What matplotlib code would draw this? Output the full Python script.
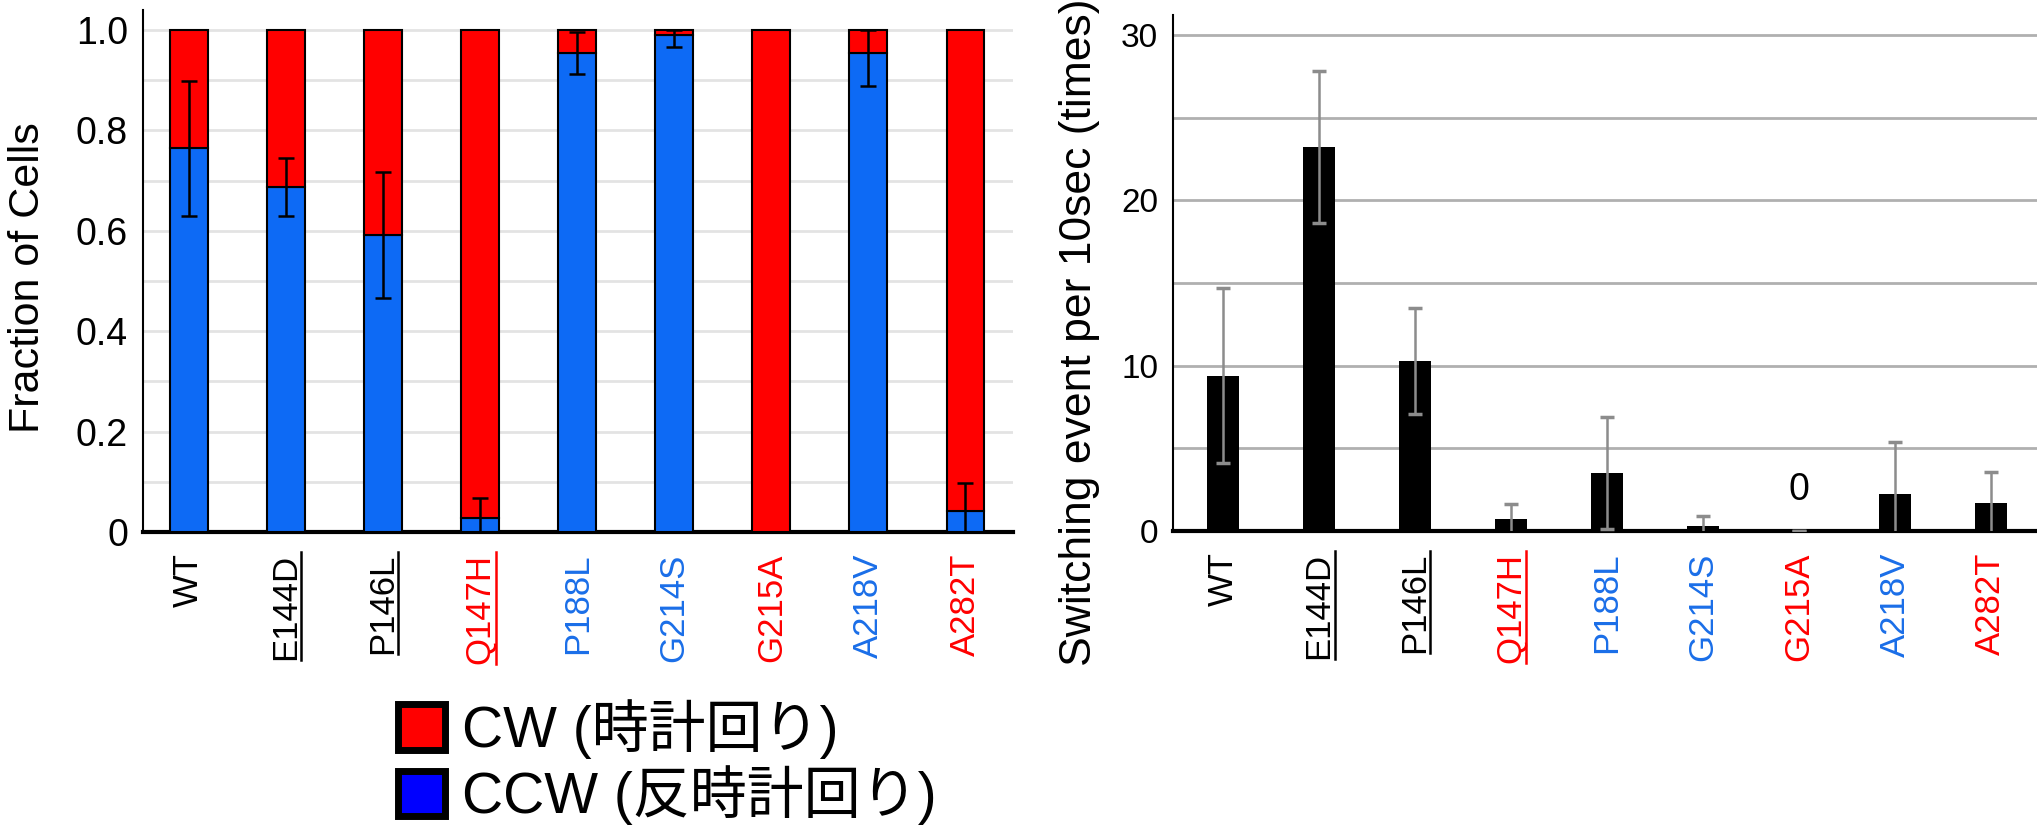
import matplotlib
matplotlib.use("Agg")
import matplotlib.pyplot as plt
from matplotlib import font_manager
from matplotlib.patches import Patch
from matplotlib.lines import Line2D
import numpy as np

plt.rcParams['font.family'] = ['Liberation Sans', 'Noto Sans CJK JP', 'DejaVu Sans']
_names = {f.name for f in font_manager.fontManager.ttflist}
HAS_NARROW = 'Liberation Sans Narrow' in _names

# ---- data ----
strains = ["WT", "E144D", "P146L", "Q147H", "P188L", "G214S", "G215A", "A218V", "A282T"]
label_colors = ["black", "black", "black", "#ff0000", "#1a6ee8", "#1a6ee8", "#ff0000", "#1a6ee8", "#ff0000"]
underlined = [False, True, True, True, False, False, False, False, False]

ccw_frac = [0.765, 0.688, 0.592, 0.027, 0.954, 0.991, 0.0, 0.954, 0.042]
ccw_err_lo = [0.135, 0.059, 0.126, 0.027, 0.042, 0.025, 0.0, 0.065, 0.042]
ccw_err_hi = [0.133, 0.058, 0.126, 0.040, 0.042, 0.009, 0.0, 0.046, 0.056]

switch_mean = [9.4, 23.2, 10.3, 0.75, 3.5, 0.32, 0.0, 2.22, 1.70]
switch_err = [5.3, 4.6, 3.2, 0.91, 3.4, 0.56, 0.0, 3.16, 1.87]

RED = "#ff0000"
BLUE_BAR = "#0d6af5"
BLUE_LEG = "#0000ff"

fig = plt.figure(figsize=(20.37, 8.32), dpi=100)

# ---- left chart ----
ax1 = fig.add_axes([0.0702, 0.3606, 0.4271, 0.6274])
x = np.arange(len(strains))
cw_frac = [1 - v for v in ccw_frac]
ax1.bar(x, ccw_frac, width=0.39, color=BLUE_BAR, edgecolor="black", linewidth=1.5, zorder=3)
ax1.bar(x, cw_frac, width=0.39, bottom=ccw_frac, color=RED, edgecolor="black", linewidth=1.5, zorder=3)
for i in range(len(strains)):
    if ccw_err_lo[i] > 0 or ccw_err_hi[i] > 0:
        ax1.errorbar(x[i], ccw_frac[i], yerr=[[ccw_err_lo[i]], [ccw_err_hi[i]]], fmt="none",
                     ecolor="black", elinewidth=1.8, capsize=6, capthick=1.8, zorder=4)
ax1.set_xlim(-0.472, 8.49)
ax1.set_ylim(0, 1.04)
ax1.set_yticks([0, 0.2, 0.4, 0.6, 0.8, 1.0])
ax1.set_yticklabels(["0", "0.2", "0.4", "0.6", "0.8", "1.0"])
ax1.set_yticks(np.arange(0.1, 1.01, 0.1), minor=True)
ax1.yaxis.grid(True, which="both", color="#e3e3e3", linewidth=2, zorder=0)
ax1.set_axisbelow(True)
ax1.tick_params(axis="y", which="both", length=0, pad=10.8)
ax1.tick_params(axis="x", length=0, labelsize=25, pad=15.5)
for lab in ax1.get_yticklabels():
    if HAS_NARROW:
        lab.set_fontfamily(['Liberation Sans Narrow', 'Liberation Sans'])
        lab.set_fontsize(29)
    else:
        lab.set_fontsize(27)
ax1.set_xticks(x)
ax1.set_xticklabels(strains, rotation=90)
for lab, c in zip(ax1.get_xticklabels(), label_colors):
    lab.set_color(c)
for s in ["top", "right"]:
    ax1.spines[s].set_visible(False)
ax1.spines["left"].set_linewidth(1.5)
ax1.spines["bottom"].set_linewidth(3)
ax1.set_ylabel("Fraction of Cells", fontsize=31)
ax1.yaxis.set_label_coords(-0.109, 0.487)

# ---- right chart ----
ax2 = fig.add_axes([0.5759, 0.3618, 0.4241, 0.6202])
ax2.bar(x, switch_mean, width=0.34, color="black", zorder=3)
ax2.errorbar(x, switch_mean, yerr=switch_err, fmt="none", ecolor="#8c8c8c",
             elinewidth=1.8, capsize=5, capthick=2.5, zorder=4)
ax2.text(x[6], 2.5, "0", ha="center", va="center", fontsize=27)
ax2.set_xlim(-0.52, 8.48)
ax2.set_ylim(0, 31.2)
ax2.set_yticks([0, 10, 20, 30])
ax2.set_yticks([5, 15, 25], minor=True)
ax2.yaxis.grid(True, which="both", color="#b0b0b0", linewidth=2, zorder=0)
ax2.set_axisbelow(True)
ax2.tick_params(axis="y", which="both", length=0, labelsize=24, pad=10.8)
ax2.tick_params(axis="x", length=0, labelsize=25, pad=15.5)
ax2.set_xticks(x)
ax2.set_xticklabels(strains, rotation=90)
for lab, c in zip(ax2.get_xticklabels(), label_colors):
    lab.set_color(c)
for s in ["top", "right"]:
    ax2.spines[s].set_visible(False)
ax2.spines["left"].set_linewidth(1.5)
ax2.spines["bottom"].set_linewidth(3)
ax2.set_ylabel("Switching event per 10sec (times)", fontsize=32)
ax2.yaxis.set_label_coords(-0.0845, 0.386)

# ---- legend ----
handles = [Patch(facecolor=RED, edgecolor="black", linewidth=5),
           Patch(facecolor=BLUE_LEG, edgecolor="black", linewidth=5)]
fig.legend(handles, ["CW (時計回り)", "CCW (反時計回り)"], loc="lower left",
           bbox_to_anchor=(0.176, -0.04), frameon=False, fontsize=41,
           handlelength=0.82, handleheight=0.85, handletextpad=0.3, labelspacing=0.12,
           borderpad=0.2)

# ---- underlines for rotated tick labels ----
fig.canvas.draw()
renderer = fig.canvas.get_renderer()
for ax in (ax1, ax2):
    for lab, u, c in zip(ax.get_xticklabels(), underlined, label_colors):
        if u:
            bb = lab.get_window_extent(renderer)
            xline = bb.x1 - 1
            fig.add_artist(Line2D([xline, xline], [bb.y0, bb.y1 + 2], transform=None,
                                  color=c, linewidth=1.8))

fig.savefig("out.png", dpi=100)
